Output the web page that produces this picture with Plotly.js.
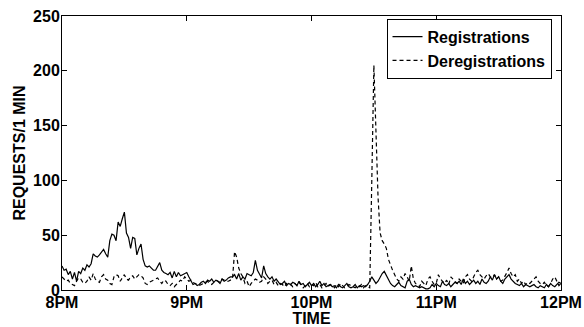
<!DOCTYPE html>
<html>
<head>
<meta charset="utf-8">
<script src="https://cdn.plot.ly/plotly-3.0.1.min.js"></script>
<style>html,body{margin:0;padding:0;background:#fff;}#chart{width:584px;height:327px;}</style>
</head>
<body>
<div id="chart"></div>
<script>
// Requests per minute, one value per minute from 8PM (minute 0) to 12PM (minute 240)
const registrations = [
  22,18,19,14,17,10,16,8,17,15,
  20,18,23,21,24,33,31,30,32,35,
  37,33,30,45,51,50,45,62,58,65,
  71,52,48,38,48,47,32,38,42,28,
  22,21,22,20,18,18,22,25,18,16,
  15,14,16,11,17,12,16,13,14,15,
  16,12,8,5,6,4,5,7,8,6,
  9,8,10,7,9,8,6,10,8,9,
  11,12,12,14,10,15,9,12,10,15,
  14,13,16,27,18,14,11,22,15,12,
  10,12,8,10,7,5,6,8,4,6,
  5,7,6,4,8,5,6,3,5,7,
  4,6,3,5,8,4,6,3,4,5,
  3,4,2,5,3,2,4,6,3,2,
  3,5,2,4,3,4,3,5,8,12,
  9,6,8,12,15,17,13,10,6,4,
  3,5,7,4,3,2,8,10,5,3,
  4,3,2,3,2,1,1,2,5,3,
  6,4,3,8,5,4,6,3,5,7,
  6,8,5,10,6,8,5,7,9,6,
  8,5,10,7,6,8,12,9,14,10,
  12,8,6,10,12,14,10,8,6,5,
  4,6,3,5,4,3,4,5,3,2,
  4,3,2,5,3,6,4,3,5,7,
  6
];
const deregistrations = [
  12,10,8,9,6,5,4,8,11,10,
  7,6,8,12,9,15,10,8,7,12,
  14,10,9,6,5,12,14,13,8,11,
  14,10,9,12,13,10,12,14,13,11,
  6,5,7,8,9,10,11,8,6,9,
  8,5,4,6,3,5,7,9,8,12,
  10,8,9,7,6,5,4,5,6,7,
  8,6,5,7,9,8,7,10,9,8,
  8,9,10,35,30,20,15,12,6,8,
  3,6,8,10,9,7,8,12,10,6,
  8,9,5,7,4,6,5,3,6,4,
  5,3,6,4,7,5,2,4,6,3,
  5,4,7,3,5,2,4,6,3,5,
  4,2,5,3,6,4,2,3,5,4,
  3,2,4,3,5,2,4,3,2,100,
  205,145,85,52,45,42,38,28,22,18,
  14,10,8,12,10,15,12,8,22,10,
  6,5,3,8,6,4,10,12,8,5,
  6,14,10,8,6,9,5,12,10,8,
  6,10,8,6,12,14,10,8,12,16,
  18,14,12,10,13,15,12,11,14,10,
  12,8,9,12,16,20,15,12,14,8,
  10,6,8,5,7,6,8,10,12,8,
  6,5,7,4,3,6,10,12,8,4,
  6
];
const minutes = registrations.map((_, i) => i);
const tickMinutes = [0, 60, 120, 180, 240];
const tickLabels = ['8PM', '9PM', '10PM', '11PM', '12PM'];
const yTicks = [0, 50, 100, 150, 200, 250];

const font = {family: 'Liberation Sans, Arial, sans-serif', size: 16, color: '#000', weight: 'bold'};

const traces = [
  {x: minutes, y: registrations, type: 'scatter', mode: 'lines', name: 'Registrations',
   line: {color: '#000', width: 1.2}},
  {x: minutes, y: deregistrations, type: 'scatter', mode: 'lines', name: 'Deregistrations',
   line: {color: '#000', width: 1.2, dash: '4px,3px'}}
];

const axisCommon = {
  showline: true, linecolor: '#000', linewidth: 1, mirror: 'ticks',
  ticks: 'inside', ticklen: 5, tickcolor: '#000', showgrid: false, zeroline: false,
  tickfont: font
};

const layout = {
  width: 584, height: 327,
  margin: {l: 62, r: 23, t: 16, b: 37},
  paper_bgcolor: '#fff', plot_bgcolor: '#fff',
  font: font,
  showlegend: true,
  legend: {x: 0.981, y: 0.99, xanchor: 'right', yanchor: 'top',
           bordercolor: '#000', borderwidth: 1, bgcolor: '#fff',
           font: font, tracegroupgap: 0, itemwidth: 30},
  xaxis: Object.assign({}, axisCommon, {
    range: [0, 240], tickvals: tickMinutes, ticktext: tickLabels,
    ticklabelstandoff: -2,
    title: {text: 'TIME', font: font, standoff: 3}
  }),
  yaxis: Object.assign({}, axisCommon, {
    range: [0, 250], tickvals: yTicks,
    ticklabelstandoff: -2,
    title: {text: 'REQUESTS/1 MIN', font: font, standoff: 3}
  })
};

Plotly.newPlot('chart', traces, layout, {displayModeBar: false, staticPlot: true});
</script>
</body>
</html>
